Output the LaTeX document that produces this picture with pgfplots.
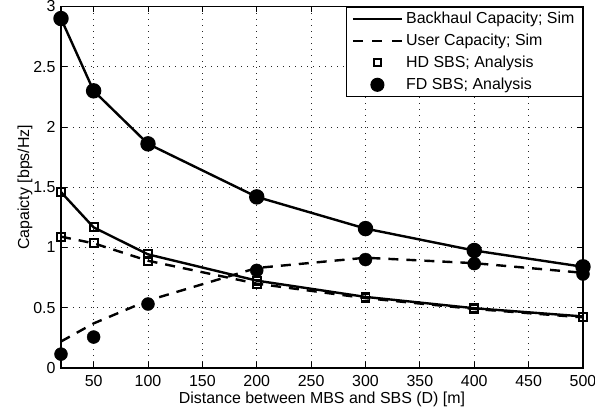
\documentclass[border=0pt]{standalone}
\usepackage{fontspec}
\setmainfont{Liberation Sans}
\usepackage{pgfplots}
\pgfplotsset{compat=1.18}
\pgfplotsset{
  mylinelegend/.style={legend image code/.code={\draw[##1, line width=2.4bp] (0bp,0bp) -- (49bp,0bp);}},
  mysqlegend/.style={legend image code/.code={\draw[black, line width=1.8bp, fill=white] (24.5bp,0bp) +(-3.5bp,-3.5bp) rectangle +(3.5bp,3.5bp);}},
  mycirclegend/.style={legend image code/.code={\fill[black] (24.5bp,0bp) circle (6.5bp);}},
}
\begin{document}
\fontsize{16}{19}\selectfont
\begin{tikzpicture}
\useasboundingbox (-61bp,-49bp) rectangle (534bp,368bp);
\begin{axis}[
  at={(0bp,0bp)}, anchor=south west,
  scale only axis, width=522bp, height=361.5bp,
  xmin=20, xmax=500, ymin=0, ymax=3,
  xtick={50,100,150,200,250,300,350,400,450,500},
  ytick={0,0.5,1,1.5,2,2.5,3},
  tick align=inside,
  major tick length=6bp,
  tick style={line width=0.8bp, black},
  grid=major, grid style={dash pattern=on 1bp off 5bp, black!85, line width=0.8bp},
  axis line style={line width=1.1bp},
  /pgf/number format/assume math mode=true,
  tick label style={font=\fontsize{16}{19}\selectfont},
  xticklabel style={yshift=-2bp},
  label style={font=\fontsize{16}{19}\selectfont},
  xlabel={Distance between MBS and SBS (D) [m]},
  ylabel={Capaicty [bps/Hz]},
  xlabel style={yshift=6bp},
  ylabel style={yshift=-10bp},
  legend style={at={(1,1)}, anchor=north east, draw=black, line width=1.1bp,
    font=\fontsize{16}{19}\selectfont, inner xsep=5bp, inner ysep=3bp,
    row sep=4bp,
    nodes={inner xsep=3bp}},
  legend cell align=left,
]
\addlegendimage{black, mylinelegend}
\addlegendentry{Backhaul Capacity; Sim}
\addlegendimage{black, dash pattern=on 10bp off 9.5bp, mylinelegend}
\addlegendentry{User Capacity; Sim}
\addlegendimage{mysqlegend}
\addlegendentry{HD SBS; Analysis}
\addlegendimage{mycirclegend}
\addlegendentry{FD SBS; Analysis}

% HD backhaul
\addplot[forget plot, black, line width=2.4bp, mark=square, mark size=4bp, mark options={solid, fill=white, line width=1.8bp}]
  coordinates {(20,1.46) (50,1.167) (100,0.943) (200,0.725) (300,0.59) (400,0.496) (500,0.428)};
% HD user
\addplot[forget plot, black, line width=2.4bp, dash pattern=on 10bp off 8bp, mark=square, mark size=4bp, mark options={solid, fill=white, line width=1.8bp}]
  coordinates {(20,1.09) (50,1.035) (100,0.89) (200,0.70) (300,0.58) (400,0.49) (500,0.42)};
% FD backhaul
\addplot[forget plot, black, line width=2.4bp, mark=*, mark size=6.5bp, mark options={solid, fill=black}]
  coordinates {(20,2.90) (50,2.30) (100,1.86) (200,1.42) (300,1.157) (400,0.975) (500,0.84)};
% FD user sim
\addplot[forget plot, black, line width=2.4bp, dash pattern=on 10bp off 8bp]
  coordinates {(20,0.22) (50,0.37) (100,0.56) (200,0.83) (300,0.915) (400,0.87) (500,0.79)};
% FD user analysis
\addplot[forget plot, only marks, black, mark=*, mark size=6.5bp, mark options={fill=black}]
  coordinates {(20,0.115) (50,0.257) (100,0.531) (200,0.81) (300,0.90) (400,0.866) (500,0.78)};
\end{axis}
\end{tikzpicture}
\end{document}
